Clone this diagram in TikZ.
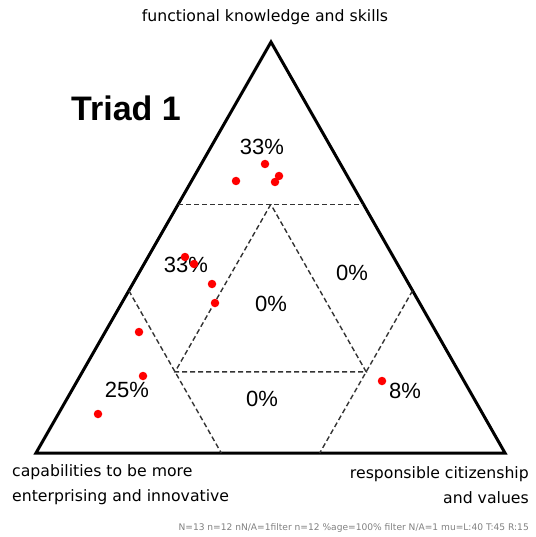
\documentclass[tikz,border=0pt]{standalone}
\usepackage{fontspec}
\setmainfont{DejaVu Sans}
\newfontfamily\pctfont{Liberation Sans}
\usetikzlibrary{calc}

\begin{document}
\begin{tikzpicture}
      [%%%%%%%%%%%%%%%%%%%%%%%%%%%%%%
          x=1pt, y=-1pt,
          edge/.style={draw=black, line width=3pt, line join=miter},
          cut/.style={draw=black!80, line width=1.4pt, dash pattern=on 5pt off 3pt},
          dot/.style={circle, fill=red, inner sep=0pt, minimum size=8.5pt},
          pct/.style={font=\pctfont\fontsize{22}{22}\selectfont, inner sep=0pt},
          corner/.style={font=\fontsize{15.7}{25}\selectfont, inner sep=0pt}
      ]%%%%%%%%%%%%%%%%%%%%%%%%%%%%%%

  \useasboundingbox (0,0) rectangle (535,537);

  \coordinate (top) at (271,42);
  \coordinate (left) at (36,453);
  \coordinate (right) at (505,453);

  \draw[edge] (top) -- (left) -- (right) -- cycle;

  % cuts near each corner
  \coordinate (tl) at ($(top)!0.395!(left)$);
  \coordinate (tr) at ($(top)!0.395!(right)$);
  \coordinate (lt) at ($(left)!0.395!(top)$);
  \coordinate (lr) at ($(left)!0.395!(right)$);
  \coordinate (rt) at ($(right)!0.395!(top)$);
  \coordinate (rl) at ($(right)!0.395!(left)$);

  \draw[cut] (tl) -- (tr);
  \draw[cut] (lt) -- (lr);
  \draw[cut] (rt) -- (rl);

  % inner triangle
  \coordinate (mt) at ($(tl)!0.5!(tr)$);
  \coordinate (ml) at ($(lt)!0.5!(lr)$);
  \coordinate (mr) at ($(rt)!0.5!(rl)$);
  \draw[cut] (mt) -- (ml) -- (mr) -- cycle;

  % percentages
  \node[pct] (ptop) at (262,147) {33\%};
  \node[pct] (pupleft) at (186,265) {33\%};
  \node[pct] (pupright) at (352,273) {0\%};
  \node[pct] (pmid) at (271,304) {0\%};
  \node[pct] (pleft) at (127,390) {25\%};
  \node[pct] (pbottom) at (262,399) {0\%};
  \node[pct] (pright) at (405,391) {8\%};

  % responses
  \foreach \x/\y [count=\i] in {265/164, 279/176, 275/182, 236/181,
                                185/257, 194/264, 212/284, 215/303,
                                139/332, 143/376, 98/414, 382/381}
      \node[dot] (d\i) at (\x,\y) {};

  \node (title) at (126,108) {\pctfont\bfseries\fontsize{34}{34}\selectfont Triad 1};
  \node[corner] (ktop) at (265,17) {functional knowledge and skills};
  \node[corner, anchor=west, align=left] (kleft) at (12,485)
      {capabilities to be more\\enterprising and innovative};
  \node[corner, anchor=east, align=right] (kright) at (529,485)
      {responsible citizenship\\and values};
  \node[anchor=east, inner sep=0pt, text=black!50, font=\fontsize{9.1}{9.1}\selectfont]
      (stats) at (529,528)
      {N=13 n=12 nN/A=1filter n=12 \%age=100\% filter N/A=1 mu=L:40 T:45 R:15};

\end{tikzpicture}
\end{document}
